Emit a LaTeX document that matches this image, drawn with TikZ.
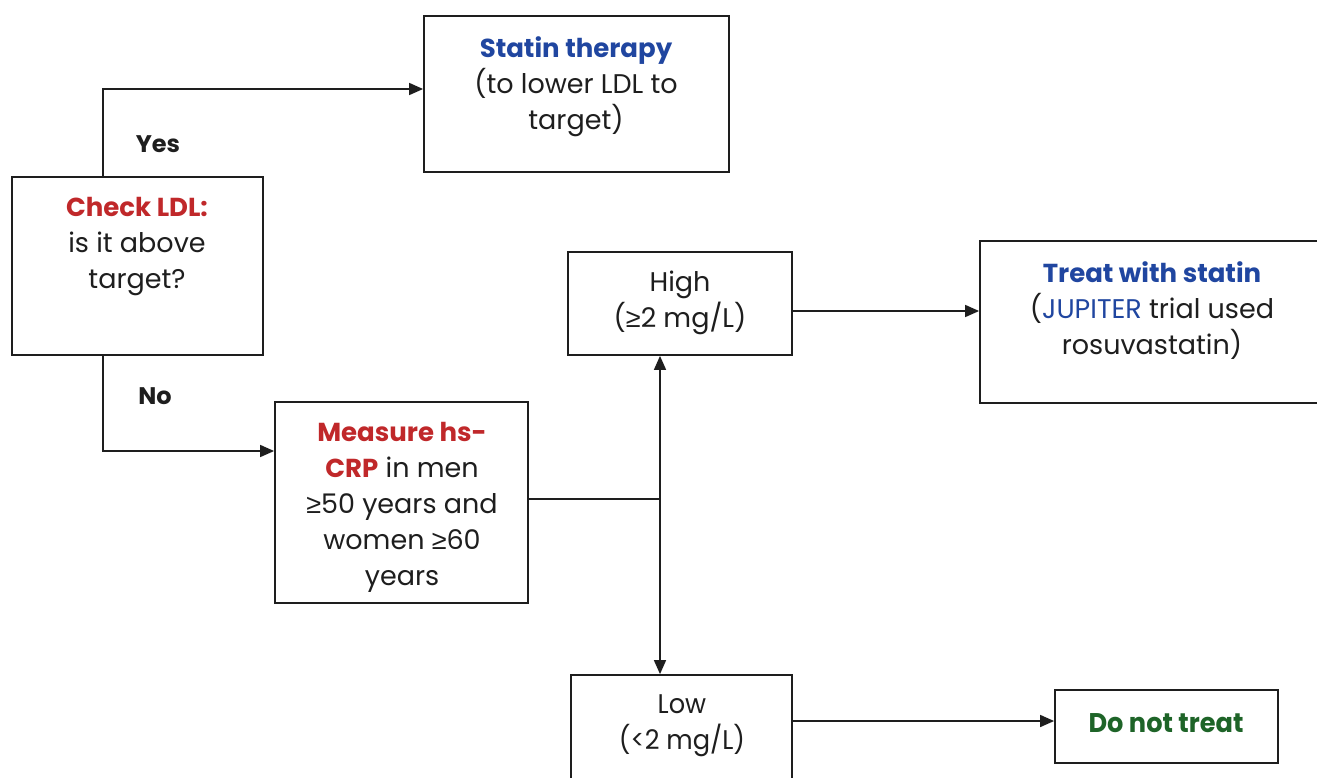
\documentclass[tikz,border=0pt]{standalone}
\usepackage{fontspec}
\setmainfont{Poppins}
\newfontfamily\condfont[FakeStretch=0.95]{Poppins}
\newfontfamily\symfont{Liberation Sans}
\usetikzlibrary{arrows.meta}
\definecolor{myred}{RGB}{192,40,42}
\definecolor{myblue}{RGB}{32,70,160}
\definecolor{mygreen}{RGB}{30,100,40}
\definecolor{myink}{RGB}{30,30,30}
\newcommand{\bt}[1]{{\fontsize{26}{36}\selectfont\bfseries #1}}
\newcommand{\myge}{{\symfont ≥}}
\begin{document}
\begin{tikzpicture}[x=1pt,y=-1pt,
  box/.style={draw=myink,line width=1.8pt,rectangle,inner sep=0pt},
  txt/.style={align=center,font=\fontsize{27}{36}\selectfont,text=myink,inner sep=0pt},
  lbl/.style={font=\fontsize{24}{28}\selectfont\bfseries,text=myink,inner sep=0pt},
  conn/.style={draw=myink,line width=1.6pt},
  arr/.style={conn,-{Triangle[length=14pt,width=12pt]}}]
\clip (0,0) rectangle (1317,777);
\fill[white] (0,0) rectangle (1317,777);
% boxes
\node[box,minimum width=305pt,minimum height=156pt] (statin) at (576.5,94) {};
\node[box,minimum width=251pt,minimum height=178pt] (check) at (137.5,266) {};
\node[box,minimum width=224pt,minimum height=103pt] (high) at (680,303.5) {};
\node[box,minimum width=345pt,minimum height=162pt] (treat) at (1152.5,322) {};
\node[box,minimum width=253pt,minimum height=201pt] (measure) at (401.5,502.5) {};
\node[box,minimum width=221pt,minimum height=115pt] (low) at (681.5,732.5) {};
\node[box,minimum width=223pt,minimum height=73pt] (donot) at (1166.5,726.5) {};
% texts
\node[txt] (tstatin) at (576,86.5) {\textcolor{myblue}{\bt{Statin therapy}}\\(to lower LDL to\\target)};
\node[txt] (tcheck) at (137,246.5) {\textcolor{myred}{\bt{Check LDL:}}\\is it above\\target?};
\node[txt] (thigh) at (680,303) {High\\(\myge2 mg/L)};
\node[txt] (ttreat) at (1152,311) {\textcolor{myblue}{\bt{Treat with statin}}\\(\textcolor{myblue}{JUPITER} trial used\\rosuvastatin)};
\node[txt] (tmeasure) at (402,507) {\textcolor{myred}{\bt{Measure hs-}}\\\textcolor{myred}{\bt{CRP}} in men\\\myge50 years and\\women \myge60\\years};
\node[txt,font=\fontsize{27}{36}\condfont] (tlow) at (682,726) {Low\\(<2 mg/L)};
\node[txt,font=\fontsize{27}{36}\condfont] (tdonot) at (1166,723) {\textcolor{mygreen}{\bfseries Do not treat}};
\node[lbl] (yes) at (158,144) {Yes};
\node[lbl] (no) at (155,396) {No};
% connector coordinates
\coordinate (cy) at (103,89);
\coordinate (cn) at (103,451);
\coordinate (cj) at (660,499);
\coordinate (ch) at (800,311);
\coordinate (cl) at (800,721);
% connectors
\draw[arr] (check.north -| cy) -- (cy) -- (cy -| statin.west);
\draw[arr] (check.south -| cn) -- (cn) -- (cn -| measure.west);
\draw[conn] (measure.east |- cj) -- (cj);
\draw[arr] (cj) -- (cj |- high.south);
\draw[arr] (cj) -- (cj |- low.north);
\draw[arr] (high.east |- ch) -- (treat.west |- ch);
\draw[arr] (low.east |- cl) -- (donot.west |- cl);
\end{tikzpicture}
\end{document}
